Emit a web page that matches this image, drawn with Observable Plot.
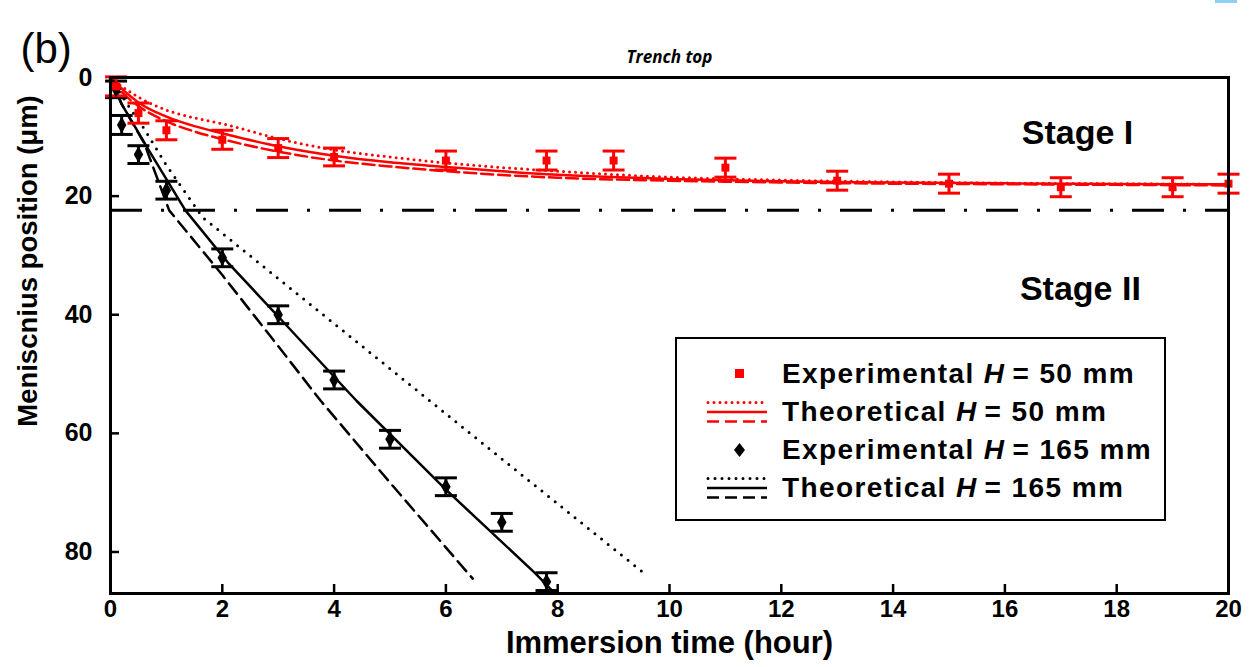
<!DOCTYPE html>
<html><head><meta charset="utf-8">
<script src="https://cdn.jsdelivr.net/npm/d3@7"></script>
<script src="https://cdn.jsdelivr.net/npm/@observablehq/plot@0.6"></script>
<style>
body{margin:0;background:#fff;}
#wrap{position:relative;width:1253px;height:667px;overflow:hidden;}
#legend{position:absolute;left:675px;top:337px;width:487px;height:180px;border:2px solid #000;background:#fff;
  font-family:"Liberation Sans",Arial,sans-serif;font-weight:bold;font-size:28px;letter-spacing:1.4px;color:#000;}
.row{position:absolute;left:0;height:38px;width:100%;}
.row svg{position:absolute;left:28px;top:0;}
.row span{position:absolute;left:105px;top:50%;transform:translateY(-50%);white-space:nowrap;}
#ylab{position:absolute;left:28px;top:261px;transform:translate(-50%,-50%) rotate(-90deg);white-space:nowrap;
  font-family:"Liberation Sans",Arial,sans-serif;font-weight:bold;font-size:27.5px;color:#000;}
#blue{position:absolute;left:1215px;top:0;width:22px;height:3px;background:#8fd0f2;}
</style></head><body><div id="wrap"><div id="blue"></div></div>
<script>
// ---- data ----
const xTicks = [0, 2, 4, 6, 8, 10, 12, 14, 16, 18, 20];
const yTicks = [0, 20, 40, 60, 80];

const exp50Time = [0.1, 0.5, 1, 2, 3, 4, 6, 7.8, 9, 11, 13, 15, 17, 19, 20];
const exp50Pos  = [1.5, 6, 8.9, 10.5, 11.9, 13.4, 14, 14, 14, 15.2, 17.4, 17.9, 18.5, 18.5, 17.9];
const exp50Err  = [1.6, 1.7, 1.6, 1.6, 1.6, 1.5, 1.6, 1.6, 1.6, 1.6, 1.6, 1.6, 1.6, 1.6, 1.6];

const exp165Time = [0.1, 0.2, 0.5, 1, 2, 3, 4, 5, 6, 7, 7.8];
const exp165Pos  = [2, 8, 13, 19, 30.4, 40, 51, 61, 69, 75, 85];
const exp165Err  = [1.4, 1.6, 1.5, 1.5, 1.5, 1.5, 1.5, 1.5, 1.5, 1.5, 1.5];

const theo50Time   = [0, 0.25, 0.5, 1, 1.5, 2, 3, 4, 5, 6, 8, 10, 12, 14, 16, 18, 20];
const theo50Dotted = [0, 1.8, 3.3, 5.5, 6.8, 7.8, 10.3, 12.2, 13.4, 14.4, 15.8, 16.8, 17.3, 17.6, 17.8, 17.9, 18];
const theo50Solid  = [0, 2.3, 4.2, 6.6, 8.2, 9.4, 11.6, 13.2, 14.3, 15.1, 16.4, 17.1, 17.5, 17.7, 17.85, 17.95, 18];
const theo50Dashed = [0.3, 2.9, 4.8, 7.4, 9.1, 10.4, 12.5, 14, 15, 15.8, 16.9, 17.4, 17.7, 17.9, 18, 18.1, 18.2];

const theo165DottedTime = [0, 0.3, 0.6, 1, 1.65, 3, 5, 7, 9.6];
const theo165DottedPos  = [0, 4.5, 8.6, 14.8, 23.6, 33.9, 49.1, 64.3, 84];
const theo165SolidTime  = [0, 0.2, 0.7, 1.34, 2.1, 3, 4.4, 6, 7.6, 7.95];
const theo165SolidPos   = [0, 4.5, 12.5, 22.4, 31.2, 40.3, 54.5, 69.5, 83.6, 87];
const theo165DashedTime = [0, 0.2, 0.6, 1.05, 2, 3, 3.76, 5, 6.48];
const theo165DashedPos  = [0, 4.5, 11, 22.4, 33.3, 45.3, 54.5, 68.3, 84.5];

const stageBoundary = [22.4];
const stageText = ["Stage I", "Stage II"];
const stageX = [17.3, 17.35];
const stageY = [9.4, 35.7];

// ---- build ----
const W = 1253, H = 667, mL = 110, mR = 25, mT = 77, mB = 74;
const innerW = W - mL - mR, innerH = H - mT - mB;
const zip = (xs, ys, es) => xs.map((x, i) => ({x, y: ys[i], e: es ? es[i] : 0}));
const e50 = zip(exp50Time, exp50Pos, exp50Err);
const e165 = zip(exp165Time, exp165Pos, exp165Err);
const RED = "#ff0000";
const hbar = {draw(ctx, size) { const r = Math.sqrt(size / Math.PI); ctx.moveTo(-r, 0); ctx.lineTo(r, 0); }};
const sans = "'Liberation Sans', Arial, sans-serif";

function errMarks(data, color) {
  return [
    Plot.ruleX(data, {x: "x", y1: d => d.y - d.e, y2: d => d.y + d.e, stroke: color, strokeWidth: 3}),
    Plot.dot(data, {x: "x", y: d => d.y - d.e, symbol: hbar, r: 11, stroke: color, strokeWidth: 3, fill: "none"}),
    Plot.dot(data, {x: "x", y: d => d.y + d.e, symbol: hbar, r: 11, stroke: color, strokeWidth: 3, fill: "none"})
  ];
}

const chart = Plot.plot({
  width: W, height: H,
  marginLeft: mL, marginRight: mR, marginTop: mT, marginBottom: mB,
  style: {fontFamily: sans, background: "transparent", overflow: "visible"},
  x: {domain: [0, 20]},
  y: {domain: [87, 0]},
  marks: [
    Plot.ruleY(stageBoundary, {stroke: "#000", strokeWidth: 3, strokeDasharray: "32,19,3,19"}),
    Plot.line(zip(theo165DottedTime, theo165DottedPos), {x: "x", y: "y", stroke: "#000", strokeWidth: 3, strokeDasharray: "0,8.5", strokeLinecap: "round"}),
    Plot.line(zip(theo165SolidTime, theo165SolidPos), {x: "x", y: "y", stroke: "#000", strokeWidth: 2.5, clip: true}),
    Plot.line(zip(theo165DashedTime, theo165DashedPos), {x: "x", y: "y", stroke: "#000", strokeWidth: 2.5, strokeDasharray: "13,7"}),
    Plot.line(zip(theo50Time, theo50Dotted), {x: "x", y: "y", stroke: RED, strokeWidth: 3, strokeDasharray: "0,6", strokeLinecap: "round", curve: "monotone-x"}),
    Plot.line(zip(theo50Time, theo50Solid), {x: "x", y: "y", stroke: RED, strokeWidth: 2.5, curve: "monotone-x"}),
    Plot.line(zip(theo50Time, theo50Dashed), {x: "x", y: "y", stroke: RED, strokeWidth: 2.5, strokeDasharray: "12,5", curve: "monotone-x"}),
    ...errMarks(e165, "#000"),
    ...errMarks(e50, RED),
    Plot.dot(e165, {x: "x", y: "y", symbol: "diamond", r: 5, fill: "#000"}),
    Plot.dot(e50, {x: "x", y: "y", symbol: "square", r: 4.5, fill: RED}),
    Plot.text(stageText, {x: (d, i) => stageX[i], y: (d, i) => stageY[i], text: d => d, fontSize: 34, fontWeight: "bold", fill: "#000"}),
    Plot.tickX(xTicks, {x: d => d, insetTop: innerH - 9, stroke: "#000", strokeWidth: 2.5}),
    Plot.tickY(yTicks, {y: d => d, insetRight: innerW - 9, stroke: "#000", strokeWidth: 2.5}),
    Plot.frame({stroke: "#000", strokeWidth: 3}),
    Plot.axisX(xTicks, {tickSize: 0, tickPadding: 6, fontSize: 24, fontWeight: "bold", label: null, tickFormat: d => String(d)}),
    Plot.axisY(yTicks, {tickSize: 0, tickPadding: 18, fontSize: 25, fontWeight: "bold", label: null, tickFormat: d => String(d)}),
    Plot.text(["Immersion time (hour)"], {frameAnchor: "bottom", dy: 59, fontSize: 31, fontWeight: "bold", fill: "#000"}),
    Plot.text(["Trench top"], {frameAnchor: "top", dy: -27, fontSize: 17, fontWeight: "bold", fontStyle: "italic", fontFamily: "'Open Sans', sans-serif", fill: "#000"}),
    Plot.text(["(b)"], {frameAnchor: "top-left", dx: -90, dy: -44, textAnchor: "start", fontSize: 42, fontWeight: "normal", fill: "#000"})
  ]
});
document.getElementById("wrap").appendChild(chart);

const ylab = document.createElement("div");
ylab.id = "ylab";
ylab.textContent = "Meniscnius position (\u03bcm)";
document.getElementById("wrap").appendChild(ylab);

// ---- legend ----
const legendItems = [
  {kind: "square", color: RED, label: "Experimental", h: "50"},
  {kind: "lines", color: RED, label: "Theoretical", h: "50"},
  {kind: "diamond", color: "#000", label: "Experimental", h: "165"},
  {kind: "lines", color: "#000", label: "Theoretical", h: "165"}
];
const legend = document.createElement("div");
legend.id = "legend";
const rowTops = [16, 54, 92, 130];
legendItems.forEach((it, i) => {
  const row = document.createElement("div");
  row.className = "row";
  row.style.top = rowTops[i] + "px";
  let sym = "";
  if (it.kind === "square") sym = `<rect x="30" y="14" width="9" height="9" fill="${it.color}"/>`;
  else if (it.kind === "diamond") sym = `<path d="M34.5 12 L40 19 L34.5 26 L29 19Z" fill="${it.color}"/>`;
  else {
    const dotW = it.color === RED ? "0,6" : "0,7";
    sym = `<line x1="3" x2="63" y1="9.5" y2="9.5" stroke="${it.color}" stroke-width="3" stroke-dasharray="${dotW}" stroke-linecap="round"/>
           <line x1="2" x2="62" y1="19" y2="19" stroke="${it.color}" stroke-width="2.5"/>
           <line x1="2" x2="62" y1="28.5" y2="28.5" stroke="${it.color}" stroke-width="2.5" stroke-dasharray="12,6"/>`;
  }
  row.innerHTML = `<svg width="70" height="38">${sym}</svg><span>${it.label} <i>H</i>&#8201;= ${it.h} mm</span>`;
  legend.appendChild(row);
});
document.getElementById("wrap").appendChild(legend);
</script>
</body></html>
